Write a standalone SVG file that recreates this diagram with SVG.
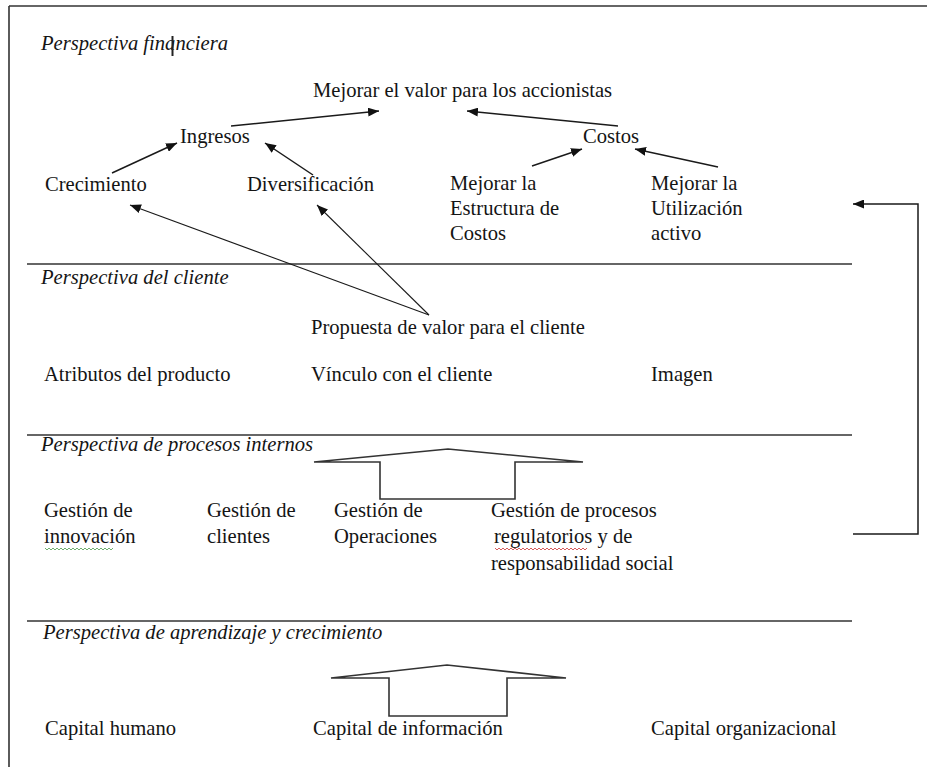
<svg xmlns="http://www.w3.org/2000/svg" width="927" height="767" viewBox="0 0 927 767">
<style>
text{font-family:'Liberation Serif','Times New Roman',Times,serif;font-size:20.6px;fill:#141414}
.t{font-style:italic}
.sep{stroke:#333;stroke-width:1.6;fill:none}
.ln{stroke:#1a1a1a;stroke-width:1.5;fill:none}
.thin{stroke:#1a1a1a;stroke-width:1.1;fill:none}
.shape{stroke:#333;stroke-width:1.6;fill:none;stroke-linejoin:miter}
</style>
<defs>
<marker id="ah" markerUnits="userSpaceOnUse" markerWidth="11" markerHeight="9" refX="11" refY="4.5" orient="auto">
<path d="M0,0 L11,4.5 L0,9 z" fill="#111"/>
</marker>
</defs>
<rect width="927" height="767" fill="#fff"/>
<g id="frame">
<line class="sep" x1="9" y1="6" x2="927" y2="6"/>
<line class="sep" x1="9" y1="6" x2="9" y2="767"/>
<line class="sep" x1="27" y1="264" x2="852" y2="264"/>
<line class="sep" x1="27" y1="435" x2="852" y2="435"/>
<line class="sep" x1="27" y1="621" x2="852" y2="621"/>
</g>
<g id="titles">
<text class="t" x="41" y="50">Perspectiva financiera</text>
<line x1="172.5" y1="36" x2="172.5" y2="56" stroke="#222" stroke-width="2"/>
<text class="t" x="41" y="284">Perspectiva del cliente</text>
<text class="t" x="41" y="451">Perspectiva de procesos internos</text>
<text class="t" x="43" y="639">Perspectiva de aprendizaje y crecimiento</text>
</g>
<g id="n-valor"><text x="313" y="97">Mejorar el valor para los accionistas</text></g>
<g id="n-ingresos"><text x="180" y="143">Ingresos</text></g>
<g id="n-costos"><text x="583" y="143">Costos</text></g>
<g id="n-crecimiento"><text x="45" y="191">Crecimiento</text></g>
<g id="n-diversificacion"><text x="247" y="191">Diversificación</text></g>
<g id="n-estructura"><text x="450" y="190">Mejorar la</text><text x="450" y="215">Estructura de</text><text x="450" y="240">Costos</text></g>
<g id="n-utilizacion"><text x="651" y="190">Mejorar la</text><text x="651" y="215">Utilización</text><text x="651" y="240">activo</text></g>
<g id="n-propuesta"><text x="311" y="334">Propuesta de valor para el cliente</text></g>
<g id="n-atributos"><text x="44" y="381">Atributos del producto</text></g>
<g id="n-vinculo"><text x="311" y="381">Vínculo con el cliente</text></g>
<g id="n-imagen"><text x="651" y="381">Imagen</text></g>
<g id="n-innovacion"><text x="44" y="517">Gestión de</text><text x="44" y="543">innovación</text>
<path d="M45,548 l2,2 l2,-2 l2,2 l2,-2 l2,2 l2,-2 l2,2 l2,-2 l2,2 l2,-2 l2,2 l2,-2 l2,2 l2,-2 l2,2 l2,-2 l2,2 l2,-2 l2,2 l2,-2 l2,2 l2,-2 l2,2 l2,-2 l2,2 l2,-2 l2,2 l2,-2 l2,2 l2,-2 l2,2 l2,-2 l2,2 l2,-2" stroke="#4a9a4a" stroke-width="0.8" fill="none"/></g>
<g id="n-clientes"><text x="207" y="517">Gestión de</text><text x="207" y="543">clientes</text></g>
<g id="n-operaciones"><text x="334" y="517">Gestión de</text><text x="334" y="543">Operaciones</text></g>
<g id="n-regulatorios"><text x="491" y="517">Gestión de procesos</text><text x="494" y="543">regulatorios y de</text><text x="491" y="570">responsabilidad social</text>
<path d="M495,548 l2,2 l2,-2 l2,2 l2,-2 l2,2 l2,-2 l2,2 l2,-2 l2,2 l2,-2 l2,2 l2,-2 l2,2 l2,-2 l2,2 l2,-2 l2,2 l2,-2 l2,2 l2,-2 l2,2 l2,-2 l2,2 l2,-2 l2,2 l2,-2 l2,2 l2,-2 l2,2 l2,-2 l2,2 l2,-2 l2,2 l2,-2 l2,2 l2,-2 l2,2 l2,-2 l2,2 l2,-2 l2,2 l2,-2 l2,2 l2,-2 l2,2 l2,-2" stroke="#c33" stroke-width="0.8" fill="none"/></g>
<g id="n-humano"><text x="45" y="735">Capital humano</text></g>
<g id="n-informacion"><text x="313" y="735">Capital de información</text></g>
<g id="n-organizacional"><text x="651" y="735">Capital organizacional</text></g>
<g id="up-arrow-procesos"><path class="shape" d="M314,462 L448,449 L583,462 L515,462 L515,499 L380,499 L380,462 Z"/></g>
<g id="up-arrow-aprendizaje"><path class="shape" d="M331,678 L447,665 L566,678 L507,678 L507,716 L389,716 L389,678 Z"/></g>
<g id="connectors">
<line class="ln" x1="231" y1="126" x2="379" y2="111" marker-end="url(#ah)"/>
<line class="ln" x1="618" y1="126" x2="467" y2="111" marker-end="url(#ah)"/>
<line class="ln" x1="112" y1="173" x2="177" y2="143" marker-end="url(#ah)"/>
<line class="ln" x1="313" y1="175" x2="265" y2="143" marker-end="url(#ah)"/>
<line class="ln" x1="532" y1="166" x2="582" y2="149" marker-end="url(#ah)"/>
<line class="ln" x1="718" y1="167" x2="635" y2="149" marker-end="url(#ah)"/>
<line class="thin" x1="429" y1="315" x2="130" y2="205" marker-end="url(#ah)"/>
<line class="thin" x1="429" y1="315" x2="317" y2="205" marker-end="url(#ah)"/>
<polyline class="ln" points="853,534 918,534 918,204 853,204" marker-end="url(#ah)"/>
</g>
</svg>
